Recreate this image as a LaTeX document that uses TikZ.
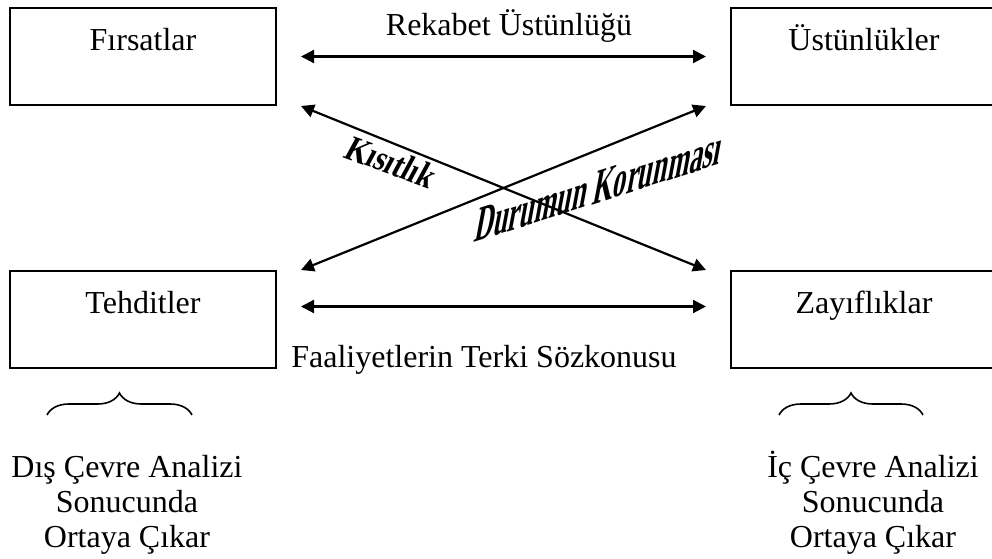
\documentclass[tikz,border=0pt]{standalone}
\usepackage{fontspec}
\setmainfont{Liberation Serif}
\usetikzlibrary{arrows.meta}
\usetikzlibrary{decorations.pathreplacing}
\tikzset{
    kutu/.style={draw, line width=1pt, minimum width=133pt, inner xsep=0pt, inner ysep=0pt, text height=21pt, text depth=27.5pt, anchor=base, font=\fontsize{16}{19}\selectfont},
    ok/.style={{Triangle[length=6.5pt,width=6.5pt]}-{Triangle[length=6.5pt,width=6.5pt]}, line width=1.1pt},
    yazi/.style={font=\fontsize{16}{17.5}\selectfont},
    sanat/.style={anchor=base west, inner sep=0pt},
    parantez/.style={decorate, decoration={brace, amplitude=11pt}, line width=0.8pt}
}

\begin{document}
\begin{tikzpicture}[x=0.5pt,y=-0.5pt]
\useasboundingbox (0,0) rectangle (992,558);
\def\d{12pt}
\foreach \x/\y/\p/\t in {143/50/firsat/{Fırsatlar}, 864/50/ustun/{Üstünlükler}, 143/313/tehdit/{Tehditler}, 864/313/zayif/{Zayıflıklar}}{
    \node[kutu] (\p) at (\x,\y) {\t};
}
\draw[ok] ([xshift=\d]firsat.east) -- ([xshift=-\d]ustun.west);
\draw[ok] ([xshift=\d,yshift=6.5pt]tehdit.east) -- ([xshift=-\d,yshift=6.5pt]zayif.west);
\draw[ok] ([xshift=\d]firsat.south east) -- ([xshift=-\d]zayif.north west);
\draw[ok] ([xshift=\d]tehdit.north east) -- ([xshift=-\d]ustun.south west);
\node[yazi, anchor=base] (rekabet) at (509,35) {Rekabet Üstünlüğü};
\node[yazi, anchor=base] (terk) at (484,367) {Faaliyetlerin Terki Sözkonusu};
\node[sanat, yslant=-0.37, xslant=0.45, xscale=0.85, yscale=1.2, font=\fontsize{16}{16}\selectfont\bfseries] (kisit) at (342,157) {Kısıtlık};
\node[sanat, yslant=0.32, xslant=0.2, xscale=0.55, yscale=1.02, font=\fontsize{24}{24}\selectfont\bfseries] (durum) at (473,243) {Durumun Korunması};
\coordinate (ps1) at (47,415);
\coordinate (ps2) at (192,415);
\coordinate (pi1) at (779,415);
\coordinate (pi2) at (923,415);
\draw[parantez] (ps1) -- (ps2);
\draw[parantez] (pi1) -- (pi2);
\node[yazi, align=center, anchor=base] (dis) at (127,547) {Dış Çevre Analizi\\Sonucunda\\Ortaya Çıkar};
\node[yazi, align=center, anchor=base] (ic) at (873,547) {İç Çevre Analizi\\Sonucunda\\Ortaya Çıkar};
\end{tikzpicture}
\end{document}
